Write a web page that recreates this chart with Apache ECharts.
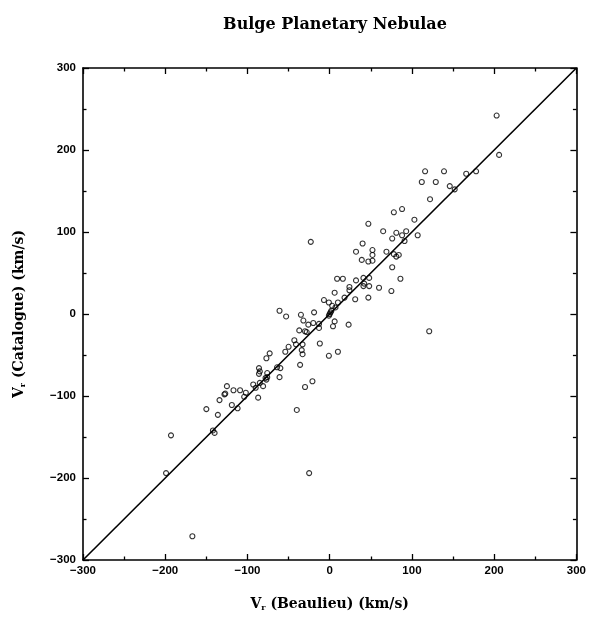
<!DOCTYPE html>
<html><head><meta charset="utf-8">
<script src="https://cdn.jsdelivr.net/npm/echarts@6/dist/echarts.min.js"></script>
<style>html,body{margin:0;padding:0;background:#fff}#c{width:589px;height:617px}</style>
</head><body><div id="c"></div>
<script>
const titleText = "Bulge Planetary Nebulae";
const xTicks = [-300, -200, -100, 0, 100, 200, 300];
const yTicks = [-300, -200, -100, 0, 100, 200, 300];
const vBeaulieu = [203,206,116,139,166,178,112,129,146,152,122,88,78,103,47,93,65,81,88,107,76,91,-23,40,32,52,69,78,81,84,52,39,47,52,76,86,75,60,47,31,9,16,32,41,48,42,41,48,24,24,6,18,-7,-1,10,3,7,-19,0,1,-1,2,-35,-32,-26,-20,-13,-13,6,4,23,-37,-30,-28,121,-12,-33,-34,-33,-1,10,-61,-53,-43,-41,-50,-54,-73,-77,-64,-60,-86,-85,-86,-76,-76,-78,-77,-61,-85,-81,-93,-90,-125,-117,-109,-102,-104,-127,-128,-87,-134,-119,-112,-136,-150,-30,-21,-40,-36,-142,-140,-193,-199,-25,-167];
const vCatalogue = [242,194,174,174,171,174,161,161,156,152,140,128,124,115,110,101,101,99,96,96,92,89,88,86,76,78,76,73,70,72,72,66,64,65,57,43,28,32,20,18,43,43,41,44,44,37,34,34,33,29,26,20,17,14,14,10,8,2,0,2,-2,4,-1,-8,-13,-11,-12,-17,-9,-15,-13,-20,-21,-22,-21,-36,-37,-44,-49,-51,-46,4,-3,-32,-37,-40,-46,-48,-54,-65,-66,-66,-70,-73,-72,-77,-78,-80,-77,-84,-88,-86,-90,-88,-93,-93,-96,-101,-97,-98,-102,-105,-111,-115,-123,-116,-89,-82,-117,-62,-142,-145,-148,-194,-194,-271];
const lineX = [-300, 300];
const lineY = [-300, 300];

const pts = vBeaulieu.map((x, i) => [x, vCatalogue[i]]);
const lineData = lineX.map((x, i) => [x, lineY[i]]);

const lblFont = {fontFamily: 'Liberation Sans', fontWeight: 'bold', fontSize: 11.5, color: '#000'};
const axLine = {show: true, onZero: false, lineStyle: {color: '#000', width: 1.6}};
const tick = {show: true, inside: true, length: 6, lineStyle: {color: '#000', width: 1.3}};
const minor = {show: true, splitNumber: 2, length: 3.5, lineStyle: {color: '#000', width: 1.3}};
const fmt = v => String(v).replace('-', '\u2212');

function mkAxis(pos, showLabel, name, nameGap, margin) {
  return {
    type: 'value', position: pos, min: -300, max: 300, interval: 100,
    axisLine: axLine, axisTick: tick, minorTick: minor,
    splitLine: {show: false},
    axisLabel: Object.assign({show: showLabel, margin: margin, formatter: fmt}, lblFont),
    name: name, nameLocation: 'middle', nameGap: nameGap,
    nameTextStyle: {
      fontFamily: 'DejaVu Serif', fontWeight: 'bold', fontSize: 14, color: '#000',
      rich: {
        b: {fontFamily: 'DejaVu Serif', fontWeight: 'bold', fontSize: 14, color: '#000'},
        s: {fontFamily: 'DejaVu Serif', fontWeight: 'bold', fontSize: 8, color: '#000', verticalAlign: 'bottom', padding: [7, 0, 0, 0]}
      }
    }
  };
}

const chart = echarts.init(document.getElementById('c'), null, {renderer: 'canvas'});
chart.setOption({
  animation: false,
  backgroundColor: '#fff',
  title: {
    text: titleText, left: 330, top: 12, textAlign: 'center',
    textStyle: {fontFamily: 'DejaVu Serif', fontWeight: 'bold', fontSize: 16, color: '#000'}
  },
  grid: {left: 83, right: 12, top: 68, bottom: 53, containLabel: false},
  xAxis: [
    mkAxis('bottom', true, '{b|V}{s|r}{b| (Beaulieu) (km/s)}', 37, 5),
    mkAxis('top', false, '', 0, 5)
  ],
  yAxis: [
    mkAxis('left', true, '{b|V}{s|r}{b| (Catalogue) (km/s)}', 56, 7),
    mkAxis('right', false, '', 0, 5)
  ],
  series: [
    {
      type: 'line', data: lineData, xAxisIndex: 0, yAxisIndex: 0,
      showSymbol: false, symbol: 'none',
      lineStyle: {color: '#000', width: 1.6}, z: 2
    },
    {
      type: 'scatter', data: pts, xAxisIndex: 0, yAxisIndex: 0,
      symbol: 'circle', symbolSize: 5,
      itemStyle: {color: 'rgba(255,255,255,0)', borderColor: '#000', borderWidth: 1.1}, z: 3
    }
  ]
});
</script></body></html>
